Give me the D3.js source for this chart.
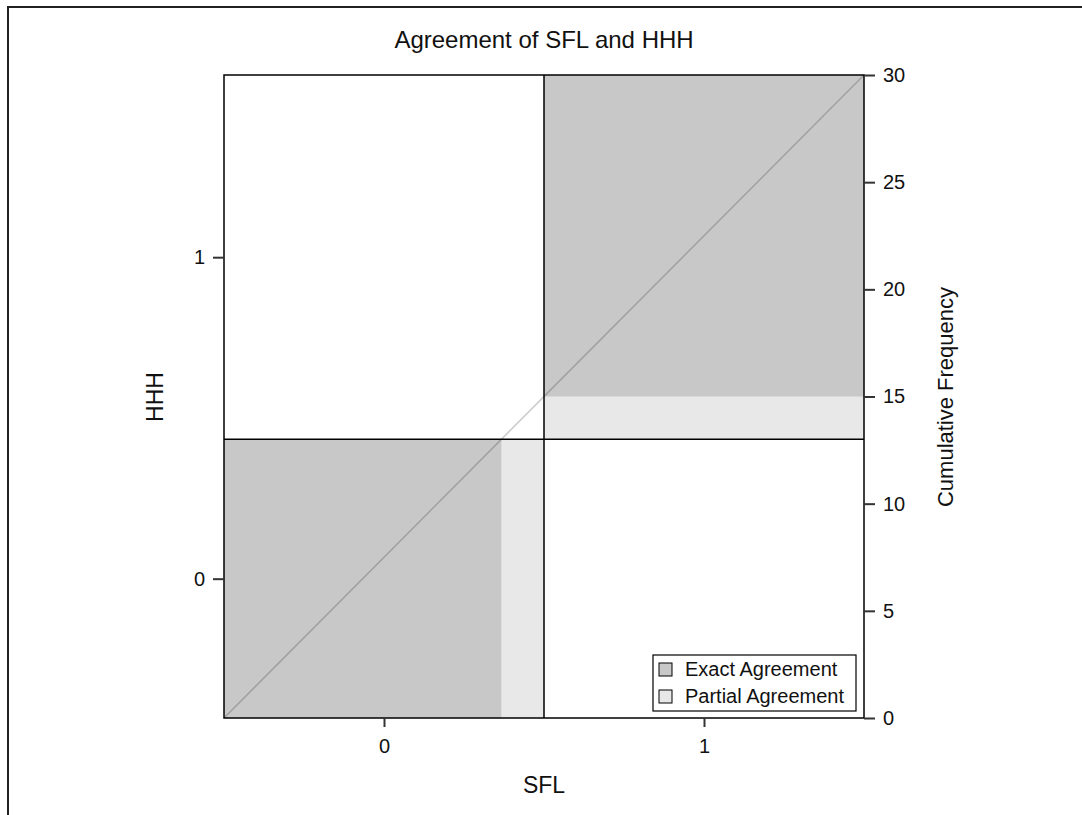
<html>
<head>
<meta charset="utf-8">
<script src="https://d3js.org/d3.v7.min.js"></script>
<style>
    body { margin: 0; background: #fff; }
    svg text { font-family: 'Liberation Sans', Arial, sans-serif; fill: #111; }
    .tick line { stroke: #333; stroke-width: 2; }
    .tick text { font-size: 20px; fill: #111; }
</style>
</head>
<body>
<div id="chart"></div>
<script>
// categories and cell counts (rows = HHH, columns = SFL)
var sflLevels = ["0", "1"];
var hhhLevels = ["0", "1"];
var countsRow0 = [13, 0];   // HHH = 0
var countsRow1 = [2, 15];   // HHH = 1
var counts = [countsRow0, countsRow1];
var freqTicks = [0, 5, 10, 15, 20, 25, 30];

var W = 1082, H = 815;
var LEFT = 224, RIGHT = 864, TOP = 75, BOTTOM = 718;

var total = d3.sum(counts, function(r) { return d3.sum(r); });
var rowTot = counts.map(function(r) { return d3.sum(r); });
var colTot = sflLevels.map(function(c, j) { return d3.sum(counts, function(r) { return r[j]; }); });
var rowCum = [0], colCum = [0];
rowTot.forEach(function(v, i) { rowCum.push(rowCum[i] + v); });
colTot.forEach(function(v, i) { colCum.push(colCum[i] + v); });

var x = d3.scaleLinear().domain([0, total]).range([LEFT, RIGHT]);
var y = d3.scaleLinear().domain([0, total]).range([BOTTOM, TOP]);

var svg = d3.select('#chart').append('svg').attr('width', W).attr('height', H);

// outer border
svg.append('rect').attr('x', 8).attr('y', 7).attr('width', W + 20).attr('height', H + 20)
    .attr('fill', 'none').attr('stroke', '#222').attr('stroke-width', 2);

// agreement rectangles
var n = counts.length;
var partial = [], exact = [];
for (var i = 0; i < n; i++) {
    var x0 = colCum[i], y0 = rowCum[i];
    for (var r = 0; r < i; r++) x0 += counts[r][i];
    for (var c = 0; c < i; c++) y0 += counts[i][c];
    var px0 = colCum[i], py0 = rowCum[i];
    for (r = 0; r < i - 1; r++) px0 += counts[r][i];
    for (c = 0; c < i - 1; c++) py0 += counts[i][c];
    var px1 = x0 + counts[i][i] + (i + 1 < n ? counts[i + 1][i] : 0);
    var py1 = y0 + counts[i][i] + (i + 1 < n ? counts[i][i + 1] : 0);
    partial.push({x0: px0, y0: py0, x1: px1, y1: py1});
    exact.push({x0: x0, y0: y0, x1: x0 + counts[i][i], y1: y0 + counts[i][i]});
}

function drawRects(data, fill) {
    svg.append('g').selectAll('rect').data(data).enter().append('rect')
        .attr('x', function(d) { return x(d.x0); })
        .attr('y', function(d) { return y(d.y1); })
        .attr('width', function(d) { return x(d.x1) - x(d.x0); })
        .attr('height', function(d) { return y(d.y0) - y(d.y1); })
        .attr('fill', fill);
}
drawRects(partial, '#e8e8e8');
drawRects(exact, '#c8c8c8');

// diagonal
svg.append('line')
    .attr('x1', x(0)).attr('y1', y(0)).attr('x2', x(total)).attr('y2', y(total))
    .attr('stroke', 'rgba(0,0,0,0.2)').attr('stroke-width', 1.5);

// cell boundaries
svg.append('g').selectAll('line').data(colCum.slice(1, -1)).enter().append('line')
    .attr('x1', function(d) { return x(d); }).attr('x2', function(d) { return x(d); })
    .attr('y1', TOP).attr('y2', BOTTOM).attr('stroke', '#000').attr('stroke-width', 1.5);
svg.append('g').selectAll('line').data(rowCum.slice(1, -1)).enter().append('line')
    .attr('y1', function(d) { return y(d); }).attr('y2', function(d) { return y(d); })
    .attr('x1', LEFT).attr('x2', RIGHT).attr('stroke', '#000').attr('stroke-width', 1.5);

// frame
svg.append('rect').attr('x', LEFT).attr('y', TOP)
    .attr('width', RIGHT - LEFT).attr('height', BOTTOM - TOP)
    .attr('fill', 'none').attr('stroke', '#000').attr('stroke-width', 1.5);

// axes
var rowMid = hhhLevels.map(function(d, i) { return (rowCum[i] + rowCum[i + 1]) / 2; });
var colMid = sflLevels.map(function(d, i) { return (colCum[i] + colCum[i + 1]) / 2; });

var gl = svg.append('g').attr('transform', 'translate(' + LEFT + ',0)')
    .call(d3.axisLeft(y).tickValues(rowMid).tickSize(11).tickPadding(8)
        .tickFormat(function(d, i) { return hhhLevels[i]; }));
var gb = svg.append('g').attr('transform', 'translate(0,' + BOTTOM + ')')
    .call(d3.axisBottom(x).tickValues(colMid).tickSize(9).tickPadding(12)
        .tickFormat(function(d, i) { return sflLevels[i]; }));
var gr = svg.append('g').attr('transform', 'translate(' + RIGHT + ',0)')
    .call(d3.axisRight(y).tickValues(freqTicks).tickSize(11).tickPadding(8));
[gl, gb, gr].forEach(function(g) {
    g.select('.domain').remove();
    g.attr('font-family', null).attr('font-size', null);
});

// titles
svg.append('text').attr('x', (LEFT + RIGHT) / 2).attr('y', 48)
    .attr('text-anchor', 'middle').style('font-size', '24px')
    .text('Agreement of SFL and HHH');
svg.append('text').attr('x', (LEFT + RIGHT) / 2).attr('y', 793)
    .attr('text-anchor', 'middle').style('font-size', '23px').text('SFL');
svg.append('text').attr('transform', 'translate(163,397) rotate(-90)')
    .attr('text-anchor', 'middle').style('font-size', '23px').text('HHH');
svg.append('text').attr('transform', 'translate(953,397) rotate(-90)')
    .attr('text-anchor', 'middle').style('font-size', '22px').text('Cumulative Frequency');

// legend
var legendItems = ['Exact Agreement', 'Partial Agreement'];
var legendFills = ['#c8c8c8', '#e8e8e8'];
var lg = svg.append('g').attr('transform', 'translate(653,655)');
lg.append('rect').attr('width', 203).attr('height', 56)
    .attr('fill', '#fff').attr('stroke', '#000').attr('stroke-width', 1.2);
var items = lg.selectAll('g.item').data(legendItems).enter().append('g')
    .attr('transform', function(d, i) { return 'translate(6,' + (8 + i * 27) + ')'; });
items.append('rect').attr('width', 13).attr('height', 13)
    .attr('fill', function(d, i) { return legendFills[i]; })
    .attr('stroke', '#000').attr('stroke-width', 1);
items.append('text').attr('x', 26).attr('y', 13).style('font-size', '20px')
    .text(function(d) { return d; });
</script>
</body>
</html>
